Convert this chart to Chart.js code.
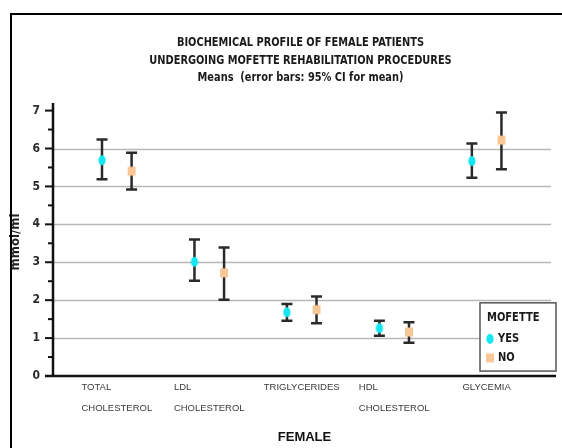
<!DOCTYPE html>
<html>
<head>
<meta charset="utf-8">
<script src="https://cdn.jsdelivr.net/npm/chart.js@4/dist/chart.umd.min.js"></script>
<style>
  html, body { margin: 0; padding: 0; background: #fff; overflow: hidden; }
  #wrap { position: absolute; left: 0; top: 0; width: 562px; height: 448px; }
  #frame { position: absolute; left: 10px; top: 13px; width: 620px; height: 520px;
           border: 2.5px solid #000; pointer-events: none; }
</style>
</head>
<body>
<div id="wrap"><canvas id="c" width="562" height="448"></canvas></div>
<div id="frame"></div>
<script>
// ---- data ----
const categories = [["TOTAL", "CHOLESTEROL"], ["LDL", "CHOLESTEROL"], ["TRIGLYCERIDES"], ["HDL", "CHOLESTEROL"], ["GLYCEMIA"]];
const seriesNames = ["YES", "NO"];
const yesMean  = [5.69, 3.01, 1.68, 1.26, 5.67];
const yesLower = [5.19, 2.51, 1.46, 1.06, 5.23];
const yesUpper = [6.24, 3.60, 1.90, 1.46, 6.13];
const noMean   = [5.40, 2.72, 1.75, 1.16, 6.22];
const noLower  = [4.92, 2.01, 1.39, 0.88, 5.45];
const noUpper  = [5.89, 3.39, 2.10, 1.42, 6.95];
const yTickValues = [0, 1, 2, 3, 4, 5, 6, 7];
const titleLines = ["BIOCHEMICAL PROFILE OF FEMALE PATIENTS", "UNDERGOING MOFETTE REHABILITATION PROCEDURES", "Means  (error bars: 95% CI for mean)"];
const xTitle = "FEMALE";
const yTitle = "mmol/ml";
const legendTitle = "MOFETTE";

const YES_COLOR = "#12e6f2";
const NO_COLOR = "#f9c796";
const NARROW = '"Liberation Sans Narrow", "DejaVu Sans Condensed", "Arial Narrow", sans-serif';
const OFFSET = 0.16;

function makeMarker(kind, color) {
  const c = document.createElement("canvas");
  c.width = 10; c.height = 12;
  const g = c.getContext("2d");
  g.fillStyle = color;
  if (kind === "ellipse") {
    g.beginPath(); g.ellipse(5, 6, 3.6, 5, 0, 0, Math.PI * 2); g.fill();
  } else {
    g.fillRect(1, 1.5, 8, 9);
  }
  return c;
}
const yesMarker = makeMarker("ellipse", YES_COLOR);
const noMarker = makeMarker("rect", NO_COLOR);

const yesData = yesMean.map((v, i) => ({ x: i - OFFSET, y: v, lo: yesLower[i], hi: yesUpper[i] }));
const noData = noMean.map((v, i) => ({ x: i + OFFSET, y: v, lo: noLower[i], hi: noUpper[i] }));

// draw text squeezed horizontally
function squeezed(ctx, text, x, y, sx) {
  ctx.save();
  ctx.translate(x, y);
  ctx.scale(sx, 1);
  ctx.fillText(text, 0, 0);
  ctx.restore();
}

const decor = {
  id: "decor",
  beforeDatasetsDraw(chart) {
    const { ctx, chartArea: a, scales: { x, y } } = chart;
    ctx.save();
    // gridlines
    ctx.strokeStyle = "#b8b8b8"; ctx.lineWidth = 1.5;
    yTickValues.forEach(v => {
      if (v === 0 || v === yTickValues[yTickValues.length - 1]) return;
      const py = Math.round(y.getPixelForValue(v)) + 0.5;
      ctx.beginPath(); ctx.moveTo(a.left, py); ctx.lineTo(a.right - 5, py); ctx.stroke();
    });
    // axes
    ctx.strokeStyle = "#111"; ctx.lineWidth = 2.5;
    ctx.beginPath(); ctx.moveTo(a.left, a.top); ctx.lineTo(a.left, a.bottom); ctx.stroke();
    ctx.beginPath(); ctx.moveTo(a.left - 8, a.bottom); ctx.lineTo(a.right, a.bottom); ctx.stroke();
    // ticks
    ctx.lineWidth = 2;
    y.ticks.forEach(t => {
      const py = y.getPixelForValue(t.value);
      const major = Number.isInteger(t.value);
      ctx.beginPath(); ctx.moveTo(a.left - (major ? 8 : 5), py); ctx.lineTo(a.left, py); ctx.stroke();
    });
    // error bars
    ctx.strokeStyle = "#2a2a2a"; ctx.lineWidth = 2.5;
    [yesData, noData].forEach(ds => ds.forEach(p => {
      const px = x.getPixelForValue(p.x);
      const pl = y.getPixelForValue(p.lo), ph = y.getPixelForValue(p.hi);
      ctx.beginPath();
      ctx.moveTo(px, pl); ctx.lineTo(px, ph);
      ctx.moveTo(px - 5.5, pl); ctx.lineTo(px + 5.5, pl);
      ctx.moveTo(px - 5.5, ph); ctx.lineTo(px + 5.5, ph);
      ctx.stroke();
    }));
    ctx.restore();
  },
  afterDraw(chart) {
    const { ctx, chartArea: a, scales: { x, y } } = chart;
    ctx.save();
    const cx = (a.left + a.right) / 2;
    // title
    ctx.fillStyle = "#1a1a1a"; ctx.textAlign = "center"; ctx.textBaseline = "middle";
    ctx.font = "bold 12px " + NARROW;
    titleLines.forEach((t, i) => squeezed(ctx, t, cx - 4, 43 + i * 17.5, 0.91));
    // category labels
    ctx.font = "9.5px 'Liberation Sans', Arial, sans-serif";
    ctx.fillStyle = "#3a3a3a"; ctx.textAlign = "left";
    categories.forEach((lines, i) => {
      const w = Math.max(...lines.map(l => ctx.measureText(l).width));
      const px = x.getPixelForValue(i) - w / 2;
      lines.forEach((l, j) => ctx.fillText(l, px, a.bottom + 11 + j * 21));
    });
    // x title
    ctx.font = "bold 13px 'Liberation Sans', Arial, sans-serif";
    ctx.fillStyle = "#111"; ctx.textAlign = "center";
    ctx.fillText(xTitle, cx, a.bottom + 61);
    // y title
    ctx.save();
    ctx.translate(16, 242); ctx.rotate(-Math.PI / 2);
    ctx.font = "bold 13px " + NARROW;
    ctx.fillStyle = "#222";
    ctx.fillText(yTitle, 0, 0);
    ctx.restore();
    // legend
    const lx = a.right - 76, ly = y.getPixelForValue(1.93), lw = 76, lh = y.getPixelForValue(0.13) - ly;
    ctx.fillStyle = "#fff"; ctx.fillRect(lx, ly, lw, lh);
    ctx.strokeStyle = "#555"; ctx.lineWidth = 1.5; ctx.strokeRect(lx, ly, lw, lh);
    ctx.fillStyle = "#1a1a1a"; ctx.textAlign = "left";
    ctx.font = "bold 12px " + NARROW;
    squeezed(ctx, legendTitle, lx + 7, ly + 15, 0.92);
    ctx.drawImage(yesMarker, lx + 5, ly + 30);
    ctx.drawImage(noMarker, lx + 5, ly + 49);
    squeezed(ctx, seriesNames[0], lx + 18, ly + 36, 0.92);
    squeezed(ctx, seriesNames[1], lx + 18, ly + 55, 0.92);
    ctx.restore();
  }
};

new Chart(document.getElementById("c"), {
  type: "scatter",
  data: {
    datasets: [
      { label: seriesNames[0], data: yesData, pointStyle: yesMarker, pointRadius: 5, pointHoverRadius: 5 },
      { label: seriesNames[1], data: noData, pointStyle: noMarker, pointRadius: 5, pointHoverRadius: 5 }
    ]
  },
  options: {
    responsive: false,
    animation: false,
    events: [],
    layout: { padding: { top: 103, bottom: 72, left: 0, right: 3 } },
    plugins: { legend: { display: false }, title: { display: false }, tooltip: { enabled: false } },
    scales: {
      x: { type: "linear", display: false, min: -0.69, max: 4.75 },
      y: {
        type: "linear", min: 0, max: 7.2,
        afterFit(s) { s.width = 53; },
        grid: { display: false, drawTicks: false },
        border: { display: false },
        ticks: {
          stepSize: 0.5, includeBounds: false, padding: 13, color: "#2a2a2a",
          font: { family: NARROW, weight: "bold", size: 12 },
          callback: v => (yTickValues.includes(v) ? String(v) : "")
        }
      }
    }
  },
  plugins: [decor]
});
</script>
</body>
</html>
